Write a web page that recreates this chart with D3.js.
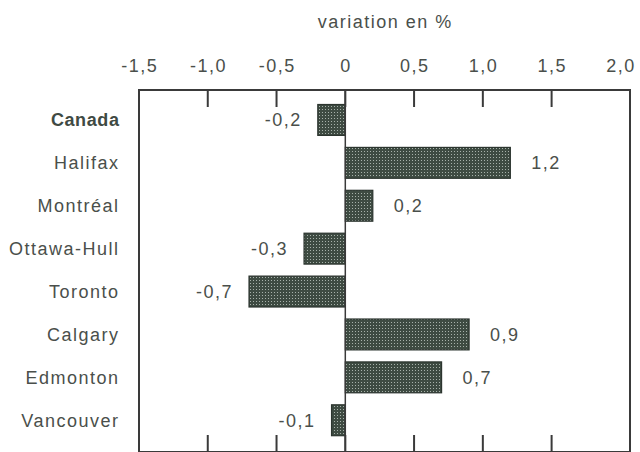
<!DOCTYPE html>
<html><head><meta charset="utf-8">
<script src="https://cdn.jsdelivr.net/npm/d3@7"></script>
<style>
html,body{margin:0;padding:0;background:#fff;}
svg{display:block;}
text{font-family:"Liberation Sans",Arial,Helvetica,sans-serif;}
</style></head>
<body>
<script>
const categories = ["Canada","Halifax","Montréal","Ottawa-Hull","Toronto","Calgary","Edmonton","Vancouver"];
const values = [-0.2, 1.2, 0.2, -0.3, -0.7, 0.9, 0.7, -0.1];
const tickValues = [-1.5,-1.0,-0.5,0,0.5,1.0,1.5,2.0];
const tickLabels = ["-1,5","-1,0","-0,5","0","0,5","1,0","1,5","2,0"];
const title = "variation en %";

const W = 640, H = 452;
const svg = d3.select("body").append("svg").attr("width", W).attr("height", H);

const defs = svg.append("defs");
const pat = defs.append("pattern").attr("id","dots").attr("patternUnits","userSpaceOnUse")
  .attr("width",3).attr("height",3);
pat.append("rect").attr("width",3).attr("height",3).attr("fill","#3e4b42");
pat.append("rect").attr("x",1).attr("y",1).attr("width",1).attr("height",1).attr("fill","#a7b1aa");

const frame = {left:139, right:630, top:90, bottom:452};
const x = d3.scaleLinear().domain([-1.5, 2.07]).range([frame.left, frame.right]);
const y = d3.scaleBand().domain(categories).range([98.5, 98.5 + 8*42.9])
  .paddingInner(0.28).paddingOuter(0.14);

const textColor = "#4a4f4b";
const fontSize = 18, ls = 1.5;

// title
svg.append("text").attr("x", x(0)+40).attr("y", 28).attr("text-anchor","middle")
  .attr("font-size", fontSize).attr("letter-spacing", ls).attr("fill", textColor).text(title);

// top tick labels
svg.append("g").selectAll("text").data(tickValues).join("text")
  .attr("x", d => x(d) + ls/2).attr("y", 72).attr("text-anchor","middle")
  .attr("font-size", fontSize).attr("letter-spacing", ls).attr("fill", textColor)
  .text((d,i) => tickLabels[i]);

// bars
svg.append("g").selectAll("rect").data(values).join("rect")
  .attr("x", d => x(Math.min(0,d)))
  .attr("y", (d,i) => y(categories[i]))
  .attr("width", d => Math.abs(x(d) - x(0)))
  .attr("height", y.bandwidth())
  .attr("fill", "url(#dots)")
  .attr("stroke", "#2c352f").attr("stroke-width", 1.2);

// frame
const lineColor = "#3a3a3a";
svg.append("rect").attr("x", frame.left).attr("y", frame.top)
  .attr("width", frame.right-frame.left).attr("height", frame.bottom-frame.top)
  .attr("fill","none").attr("stroke", lineColor).attr("stroke-width", 2);

// zero line
svg.append("line").attr("x1", x(0)).attr("x2", x(0)).attr("y1", frame.top).attr("y2", frame.bottom)
  .attr("stroke", lineColor).attr("stroke-width", 1.5);

// ticks top and bottom
const inner = tickValues.filter(v => v > -1.5 && v < 2.0);
svg.append("g").selectAll("line").data(inner).join("line")
  .attr("x1", d => x(d)).attr("x2", d => x(d)).attr("y1", frame.top).attr("y2", frame.top+17)
  .attr("stroke", lineColor).attr("stroke-width", 2);
svg.append("g").selectAll("line").data(inner).join("line")
  .attr("x1", d => x(d)).attr("x2", d => x(d)).attr("y1", frame.bottom-17).attr("y2", frame.bottom)
  .attr("stroke", lineColor).attr("stroke-width", 2);

// category labels
svg.append("g").selectAll("text").data(categories).join("text")
  .attr("x", 119.5).attr("y", d => y(d) + y.bandwidth()/2).attr("dy","0.36em")
  .attr("text-anchor","end")
  .attr("font-size", fontSize)
  .attr("font-weight", (d,i) => i===0 ? "bold" : "normal")
  .attr("letter-spacing", (d,i) => i===0 ? 0.6 : ls)
  .attr("fill", (d,i) => i===0 ? "#3f4a43" : textColor)
  .text(d => d);

// value labels
svg.append("g").selectAll("text").data(values).join("text")
  .attr("x", d => d < 0 ? x(d) - 16 : x(d) + 21)
  .attr("y", (d,i) => y(categories[i]) + y.bandwidth()/2).attr("dy","0.36em")
  .attr("text-anchor", d => d < 0 ? "end" : "start")
  .attr("font-size", fontSize).attr("letter-spacing", ls).attr("fill", textColor)
  .text(d => d3.format(".1f")(d).replace(".", ",").replace("−","-"));
</script>
</body></html>
